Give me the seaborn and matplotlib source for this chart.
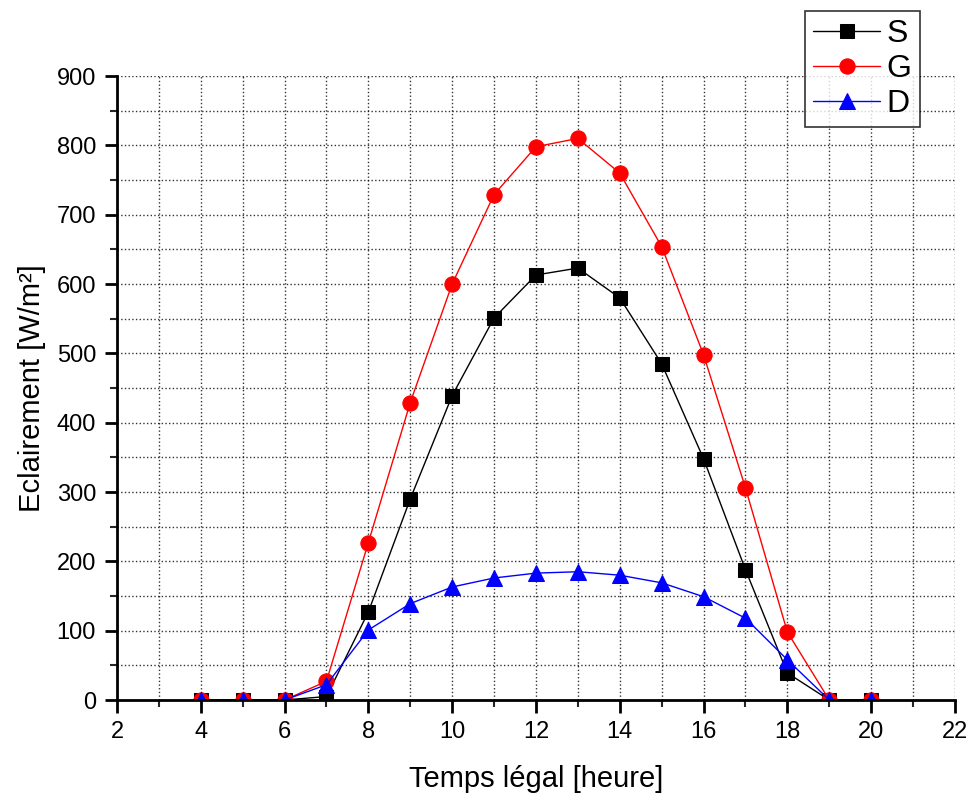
import numpy as np
import pandas as pd
import seaborn as sns
import matplotlib.pyplot as plt
from matplotlib.ticker import MultipleLocator

# Hourly irradiance readings
heures = [4, 5, 6, 7, 8, 9, 10, 11, 12, 13, 14, 15, 16, 17, 18, 19, 20]
S = [0, 0, 0, 5, 127, 290, 439, 551, 613, 623, 580, 485, 348, 188, 39, 0, 0]
G = [0, 0, 0, 27, 227, 429, 600, 729, 798, 810, 760, 654, 498, 306, 98, 0, 0]
D = [0, 0, 0, 22, 101, 139, 163, 176, 183, 185, 180, 169, 149, 118, 58, 0, 0]

data = pd.DataFrame({'heure': heures, 'S': S, 'G': G, 'D': D})

sns.set_style('white')
plt.rcParams['font.family'] = ['Liberation Sans', 'DejaVu Sans']
plt.rcParams['text.color'] = 'black'
plt.rcParams['axes.labelcolor'] = 'black'

fig = plt.figure(figsize=(9.69, 7.96), dpi=100)
ax = fig.add_axes([0.1207, 0.1206, 0.8648, 0.7839])

styles = {'S': ('black', 's', 10), 'G': ('red', 'o', 11), 'D': ('blue', '^', 12)}
for nom, (col, mk, ms) in styles.items():
    sns.lineplot(data=data, x='heure', y=nom, ax=ax, color=col, marker=mk,
                 markersize=ms, markeredgecolor=col, linewidth=1, label=nom)

ax.set_xlim(2, 22)
ax.set_ylim(0, 900)
ax.xaxis.set_major_locator(MultipleLocator(2))
ax.xaxis.set_minor_locator(MultipleLocator(1))
ax.yaxis.set_major_locator(MultipleLocator(100))
ax.yaxis.set_minor_locator(MultipleLocator(50))

ax.grid(True, which='both', linestyle=':', color='black', linewidth=1, alpha=0.8)
ax.set_axisbelow(True)
for s in ['top', 'right']:
    ax.spines[s].set_visible(False)
for s in ['left', 'bottom']:
    ax.spines[s].set_linewidth(2)
    ax.spines[s].set_color('black')

ax.tick_params(which='major', direction='out', length=9, width=2, labelsize=17,
               left=True, bottom=True, colors='black', pad=6)
ax.tick_params(which='minor', direction='out', length=5, width=1.5,
               left=True, bottom=True)

ax.set_xlabel('Temps légal [heure]', fontsize=21, labelpad=16)
ax.set_ylabel('Eclairement [W/m²]', fontsize=21, labelpad=8)

leg = ax.legend(loc='upper left', bbox_to_anchor=(0.831, 0.986),
                bbox_transform=fig.transFigure, fontsize=23, frameon=True,
                fancybox=False, edgecolor='black', handlelength=2.1,
                borderpad=0.25, labelspacing=0.15, handletextpad=0.2,
                borderaxespad=0)
leg.get_frame().set_linewidth(1.2)

fig.savefig('out.png', dpi=100)
